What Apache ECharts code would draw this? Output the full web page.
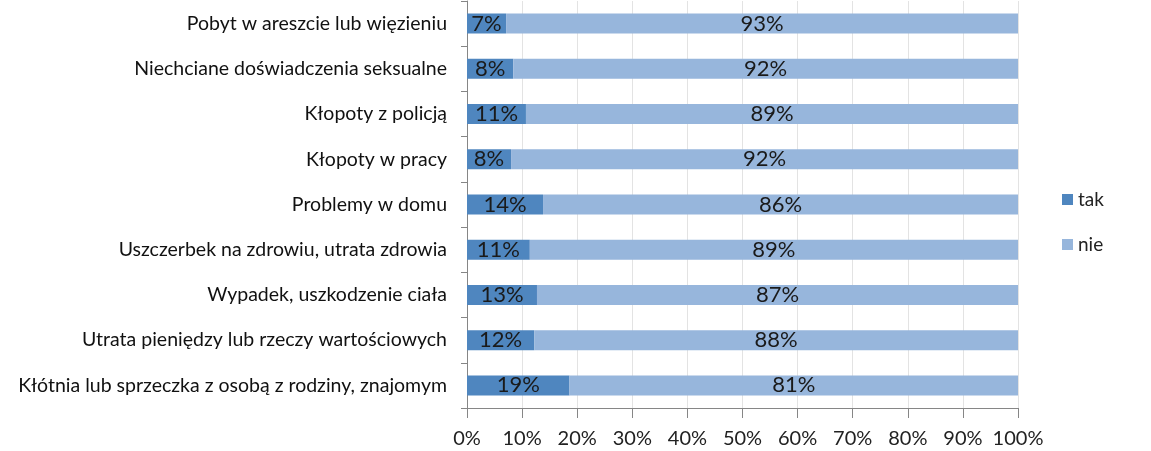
<!DOCTYPE html>
<html>
<head>
<meta charset="utf-8">
<script src="https://cdn.jsdelivr.net/npm/echarts@6/dist/echarts.min.js"></script>
<style>
  html, body { margin: 0; padding: 0; background: #fff; }
  #container { width: 1151px; height: 451px; }
</style>
</head>
<body>
<div id="container"></div>
<script>
// kategorie od góry do dołu
var categories = [
    'Pobyt w areszcie lub więzieniu',
    'Niechciane doświadczenia seksualne',
    'Kłopoty z policją',
    'Kłopoty w pracy',
    'Problemy w domu',
    'Uszczerbek na zdrowiu, utrata zdrowia',
    'Wypadek, uszkodzenie ciała',
    'Utrata pieniędzy lub rzeczy wartościowych',
    'Kłótnia lub sprzeczka z osobą z rodziny, znajomym'
];
var takValues = [7.1, 8.4, 10.7, 8.0, 13.8, 11.4, 12.7, 12.2, 18.6];
var nieValues = [92.9, 91.6, 89.3, 92.0, 86.2, 88.6, 87.3, 87.8, 81.4];
var xTicks = [0, 10, 20, 30, 40, 50, 60, 70, 80, 90, 100];

var font = 'Lato';
var dom = document.getElementById('container');
var myChart = echarts.init(dom);

var barLabel = {
    show: true,
    position: 'inside',
    color: '#1a1a1a',
    fontFamily: font,
    fontSize: 22,
    formatter: function (p) { return Math.round(p.value) + '%'; }
};

var option = {
    animation: false,
    grid: { left: 467, right: 133, top: 1, bottom: 43 },
    legend: {
        orient: 'vertical',
        left: 1057,
        top: 185,
        itemWidth: 11,
        itemHeight: 11,
        itemGap: 26,
        icon: 'rect',
        textStyle: { fontFamily: font, fontSize: 19, color: '#222' },
        data: ['tak', 'nie']
    },
    xAxis: {
        type: 'value',
        min: 0,
        max: 100,
        interval: 10,
        axisLine: { show: true, lineStyle: { color: '#868686' } },
        axisTick: { show: true, length: 10, lineStyle: { color: '#868686' } },
        splitLine: { show: true, lineStyle: { color: '#e3e3e3' } },
        axisLabel: {
            margin: 21,
            fontFamily: font,
            fontSize: 20,
            color: '#222',
            formatter: function (v) { return xTicks.indexOf(v) >= 0 ? v + '%' : ''; }
        }
    },
    yAxis: {
        type: 'category',
        inverse: true,
        data: categories,
        axisLine: { show: true, lineStyle: { color: '#868686' } },
        axisTick: { show: true, length: 6, lineStyle: { color: '#868686' } },
        axisLabel: { margin: 20, fontFamily: font, fontSize: 19.5, color: '#111' }
    },
    series: [
        {
            name: 'tak',
            type: 'bar',
            stack: 'all',
            data: takValues,
            barWidth: 20,
            itemStyle: { color: '#4f86bf' },
            label: barLabel
        },
        {
            name: 'nie',
            type: 'bar',
            stack: 'all',
            data: nieValues,
            barWidth: 20,
            itemStyle: { color: '#97b6dc' },
            label: barLabel
        }
    ]
};
myChart.setOption(option, true);
</script>
</body>
</html>
